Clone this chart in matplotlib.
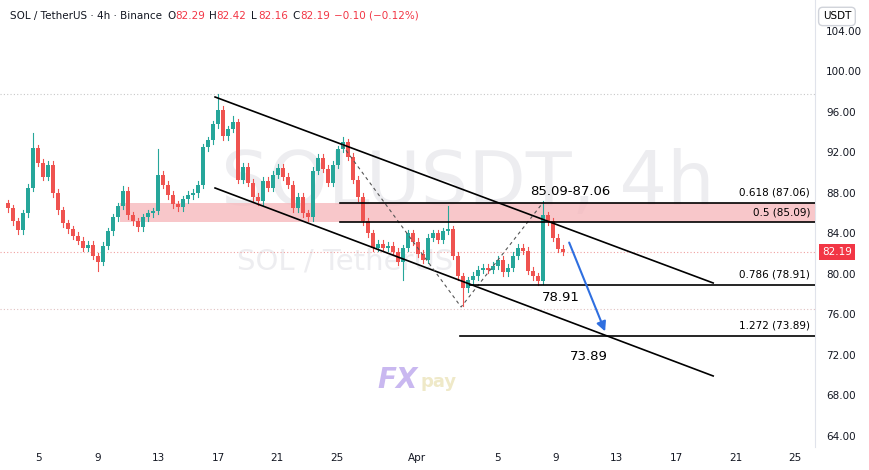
import matplotlib
matplotlib.use("Agg")
import matplotlib.pyplot as plt
from matplotlib.patches import Rectangle, FancyArrowPatch

# ---- data (8h-ish candles, price in USDT) ----
closes = [86.5, 85.2, 84.3, 86.0, 88.5, 92.4, 91.0, 89.6, 90.8, 88.0, 86.3, 85.0, 84.4, 83.8, 83.3,
          82.6, 82.9, 81.8, 81.2, 82.8, 84.2, 85.6, 86.7, 88.2, 85.8, 85.2, 84.6, 85.6, 86.0, 86.2,
          89.8, 88.8, 87.8, 86.9, 86.6, 87.4, 87.8, 88.0, 88.8, 92.5, 93.2, 94.8, 96.2, 93.6, 94.3,
          95.0, 89.3, 90.6, 89.0, 87.6, 87.2, 89.2, 88.5, 89.8, 90.5, 89.6, 88.8, 86.5, 87.6, 86.0,
          85.6, 90.2, 91.5, 90.4, 89.0, 90.8, 92.3, 93.0, 91.6, 89.3, 87.6, 85.2, 84.0, 82.6, 83.0,
          82.6, 82.8, 82.2, 81.2, 82.6, 84.0, 83.2, 82.0, 81.4, 83.6, 84.0, 83.4, 84.2, 84.4, 81.8,
          79.8, 78.6, 79.4, 79.8, 80.4, 80.6, 80.4, 80.8, 81.4, 80.2, 80.6, 81.8, 82.6, 82.3, 80.3,
          79.8, 79.3, 85.8, 85.2, 83.6, 82.5, 82.19]
first_open = 87.0
# extra wick lengths for notable candles (index: (up, down))
wicks = {5: (1.5, 0.3), 18: (0.3, 0.9), 23: (0.5, 0.3), 30: (2.5, 0.3), 42: (1.6, 0.4),
         45: (0.6, 0.3), 67: (0.5, 0.3), 79: (0.3, 1.8), 88: (2.3, 0.3), 91: (0.3, 1.8),
         106: (0.3, 0.4), 107: (1.4, 0.3)}
xtick_labels = ["5", "9", "13", "17", "21", "25", "Apr", "5", "9", "13", "17", "21", "25"]
xtick_px = [38, 98, 158, 218, 277, 337, 417, 497, 556, 616, 676, 736, 795]
yticks = [64, 68, 72, 76, 80, 84, 88, 92, 96, 100, 104]

fib_levels = [87.06, 85.09, 78.91, 73.89]
fib_labels = ["0.618 (87.06)", "0.5 (85.09)", "0.786 (78.91)", "1.272 (73.89)"]

def px2x(px):
    return 5 + (px - 38) / 15.0

def py2p(py):
    return 64 + (436 - py) / 10.125

UP, DN = "#26a69a", "#ef5350"

fig = plt.figure(figsize=(8.7, 4.7), dpi=100)
ax = fig.add_axes([0.0, 0.049, 0.937, 0.951])
ax.set_xlim(px2x(0), px2x(815))
ax.set_ylim(py2p(447), py2p(0))

# watermark
ax.text(px2x(468), py2p(185), "SOLUSDT, 4h", fontsize=54, color="#ededf0", ha="center", va="center", zorder=0)
ax.text(px2x(345), py2p(262), "SOL / TetherUS", fontsize=21, color="#ededf0", ha="center", va="center", zorder=0)

# pink zone
ax.add_patch(Rectangle((px2x(120), 85.09), px2x(815) - px2x(120), 87.06 - 85.09,
                       color="#f7b9bd", alpha=0.8, lw=0, zorder=1))

# dotted reference lines
ax.axhline(97.8, color="#c8c8c8", ls=(0, (1, 2)), lw=0.8)
ax.axhline(82.19, color="#f0a0a0", ls=(0, (1, 2)), lw=0.8)
ax.axhline(py2p(309), color="#e0c0c0", ls=(0, (1, 2)), lw=0.8)

# candles
opens = [first_open] + closes[:-1]
for i, (o, c) in enumerate(zip(opens, closes)):
    x = px2x(8 + 5 * i)
    col = UP if c >= o else DN
    up, dn = wicks.get(i, (0.35, 0.35))
    hi, lo = max(o, c) + up, min(o, c) - dn
    ax.plot([x, x], [lo, hi], color=col, lw=0.8, zorder=3)
    ax.add_patch(Rectangle((x - 0.12, min(o, c)), 0.24, max(abs(c - o), 0.08), color=col, zorder=3, lw=0))

# channel
ax.plot([px2x(215), px2x(713)], [py2p(97), py2p(283)], color="black", lw=1.2, zorder=4)
ax.plot([px2x(215), px2x(713)], [py2p(188), py2p(376)], color="black", lw=1.2, zorder=4)
# zigzag
ax.plot([px2x(342), px2x(461), px2x(541)], [py2p(145), py2p(307), py2p(205)],
        color="#555555", lw=0.8, ls=(0, (3, 3)), zorder=4)

# fib lines
starts = [340, 340, 470, 460]
for lvl, lab, s in zip(fib_levels, fib_labels, starts):
    ax.plot([px2x(s), px2x(815)], [lvl, lvl], color="black", lw=1.2, zorder=4)
    ax.text(px2x(810), lvl + 0.5, lab, fontsize=7.5, ha="right", va="bottom", zorder=5)

ax.text(px2x(570), py2p(192), "85.09-87.06", fontsize=9.5, ha="center", va="center", zorder=5)
ax.text(px2x(561), py2p(298), "78.91", fontsize=9.5, ha="center", va="center", zorder=5)
ax.text(px2x(589), py2p(357), "73.89", fontsize=9.5, ha="center", va="center", zorder=5)

ax.add_patch(FancyArrowPatch((px2x(568), py2p(240)), (px2x(606), py2p(334)),
                             arrowstyle="-|>", mutation_scale=14, color="#2f6fe0", lw=1.5, zorder=5))

# FXpay logo
ax.text(px2x(418), py2p(380), "FX", fontsize=20, color="#c9b8f0", fontweight="bold", fontstyle="italic",
        ha="right", va="center", zorder=2)
ax.text(px2x(420), py2p(382), "pay", fontsize=13, color="#efe9c8", fontweight="bold", ha="left", va="center", zorder=2)

# axes styling
for s in ["top", "left", "bottom"]:
    ax.spines[s].set_visible(False)
ax.spines["right"].set_color("#e0e3eb")
ax.yaxis.tick_right()
ax.set_yticks(yticks)
ax.set_yticklabels([f"{v:.2f}" for v in yticks], fontsize=7.5, color="#131722")
ax.tick_params(axis="y", length=0, pad=8)
ax.set_xticks([px2x(p) for p in xtick_px])
ax.set_xticklabels(xtick_labels, fontsize=7.5, color="#131722")
ax.tick_params(axis="x", length=0, pad=4)

# price tag
ax.text(px2x(822), 82.19, "82.19", fontsize=7.5, color="white", ha="left", va="center",
        bbox=dict(boxstyle="square,pad=0.3", fc="#f23645", ec="none"), clip_on=False, zorder=6)
fig.text(0.962, 0.965, "USDT", fontsize=7.5, ha="center", va="center",
         bbox=dict(boxstyle="round,pad=0.4", fc="white", ec="#d0d3da"))

# header
fig.text(0.012, 0.967, "SOL / TetherUS · 4h · Binance", fontsize=7.5, color="#131722", va="center")
hx = 0.192
for lab, val in [("O", "82.29"), ("H", "82.42"), ("L", "82.16"), ("C", "82.19")]:
    fig.text(hx, 0.967, lab, fontsize=7.5, color="#131722", va="center")
    fig.text(hx + 0.009, 0.967, val, fontsize=7.5, color="#f23645", va="center")
    hx += 0.048
fig.text(hx, 0.967, "−0.10 (−0.12%)", fontsize=7.5, color="#f23645", va="center")

fig.savefig("out.png", dpi=100, facecolor="white")
